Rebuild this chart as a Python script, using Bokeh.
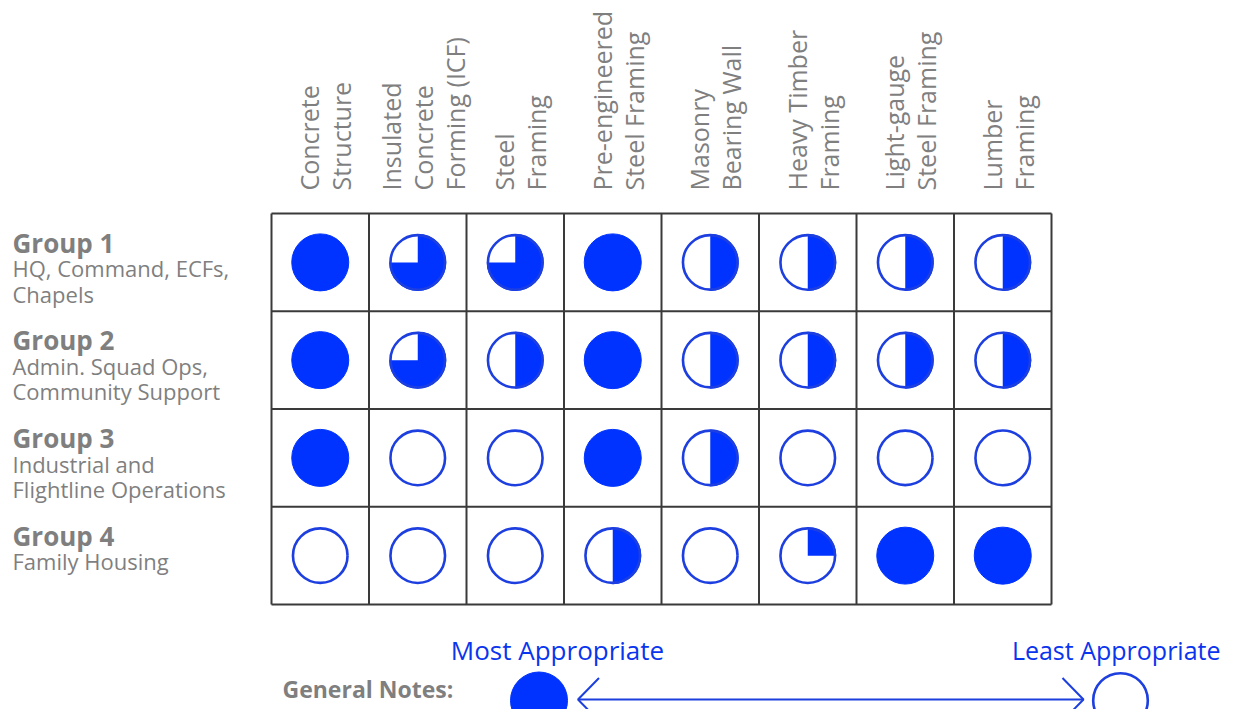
import math
from bokeh.plotting import figure
from bokeh.models import Range1d
from bokeh.core.properties import value
from bokeh.embed import file_html
from bokeh.resources import INLINE

# ---------------- data ----------------
column_labels = [
    ["Concrete", "Structure"],
    ["Insulated", "Concrete", "Forming (ICF)"],
    ["Steel", "Framing"],
    ["Pre-engineered", "Steel Framing"],
    ["Masonry", "Bearing Wall"],
    ["Heavy Timber", "Framing"],
    ["Light-gauge", "Steel Framing"],
    ["Lumber", "Framing"],
]
group_titles = ["Group 1", "Group 2", "Group 3", "Group 4"]
group_descriptions = [
    ["HQ, Command, ECFs,", "Chapels"],
    ["Admin. Squad Ops,", "Community Support"],
    ["Industrial and", "Flightline Operations"],
    ["Family Housing"],
]
group1_scores = [1.0, 0.75, 0.75, 1.0, 0.5, 0.5, 0.5, 0.5]
group2_scores = [1.0, 0.75, 0.5, 1.0, 0.5, 0.5, 0.5, 0.5]
group3_scores = [1.0, 0.0, 0.0, 1.0, 0.5, 0.0, 0.0, 0.0]
group4_scores = [0.0, 0.0, 0.0, 0.5, 0.0, 0.25, 1.0, 1.0]
scale_labels = ["Most Appropriate", "Least Appropriate"]
scale_scores = [1.0, 0.0]
notes_label = "General Notes:"

all_scores = [group1_scores, group2_scores, group3_scores, group4_scores]

# ---------------- style / layout ----------------
FONT = "Open Sans"
GRAY = "#7f7f7f"
BLUE = "#0033ff"
OUTLINE = "#1d3fe0"
TEXT_BLUE = "#0a35ee"
GRID_COLOR = "#3a3a3a"

W, H = 1222, 709
GX, GY = 271.0, 213.0
CW, CH = 97.5, 97.75
R = 28.5
BF = 11  # baseline correction
NCOL, NROW = len(column_labels), len(group_titles)

p = figure(width=W, height=H, x_range=Range1d(0, W), y_range=Range1d(H, 0),
           output_backend="svg", toolbar_location=None, min_border=0,
           x_axis_location=None, y_axis_location=None)
p.grid.visible = False
p.outline_line_color = None
p.background_fill_color = "white"
p.border_fill_color = "white"

# ---------------- grid ----------------
vx = [GX + c * CW for c in range(NCOL + 1)]
p.segment(x0=vx, y0=[GY] * len(vx), x1=vx, y1=[GY + NROW * CH] * len(vx),
          line_color=GRID_COLOR, line_width=2)
hy = [GY + r * CH for r in range(NROW + 1)]
p.segment(x0=[GX] * len(hy), y0=hy, x1=[GX + NCOL * CW] * len(hy), y1=hy,
          line_color=GRID_COLOR, line_width=2)

# ---------------- harvey balls ----------------
def draw_balls(xs, ys, scores):
    p.circle(x=xs, y=ys, radius=R, fill_color="white", line_color=None)
    part = [(x, y, s) for x, y, s in zip(xs, ys, scores) if 0 < s < 1]
    if part:
        p.wedge(x=[a[0] for a in part], y=[a[1] for a in part], radius=R,
                start_angle=[math.pi / 2] * len(part),
                end_angle=[math.pi / 2 - 2 * math.pi * a[2] for a in part],
                direction="clock", fill_color=BLUE, line_color=None)
    full = [(x, y) for x, y, s in zip(xs, ys, scores) if s >= 1]
    if full:
        p.circle(x=[a[0] for a in full], y=[a[1] for a in full], radius=R,
                 fill_color=BLUE, line_color=BLUE, line_width=1)
    rest = [(x, y) for x, y, s in zip(xs, ys, scores) if s < 1]
    if rest:
        p.circle(x=[a[0] for a in rest], y=[a[1] for a in rest], radius=R - 1.2,
                 fill_color=None, line_color=OUTLINE, line_width=2.6)

bx, by, bs = [], [], []
for r, row in enumerate(all_scores):
    for c, s in enumerate(row):
        bx.append(GX + (c + 0.5) * CW)
        by.append(GY + (r + 0.5) * CH)
        bs.append(s)
draw_balls(bx, by, bs)

# ---------------- column headers ----------------
LINE_SP = 32
tx, ty, tt = [], [], []
for c, lines in enumerate(column_labels):
    cx = GX + (c + 0.5) * CW
    n = len(lines)
    for i, ln in enumerate(lines):
        tx.append(cx + (i - (n - 1) / 2) * LINE_SP + 16 - BF)
        ty.append(GY - 23)
        tt.append(ln)
p.text(x=tx, y=ty, text=tt, angle=math.pi / 2, text_align="left",
       text_baseline="alphabetic", text_font=value(FONT), text_font_size="25px",
       text_color=GRAY)

# ---------------- row labels ----------------
gx_, gy_, gt_ = [], [], []
dx_, dy_, dt_ = [], [], []
for r, (title, desc) in enumerate(zip(group_titles, group_descriptions)):
    base = GY + r * CH + 40 - BF
    gx_.append(12); gy_.append(base); gt_.append(title)
    for i, ln in enumerate(desc):
        dx_.append(12); dy_.append(base + 25.5 * (i + 1)); dt_.append(ln)
p.text(x=gx_, y=gy_, text=gt_, text_align="left", text_baseline="alphabetic",
       text_font=value(FONT), text_font_size="26px", text_font_style="bold",
       text_color=GRAY)
p.text(x=dx_, y=dy_, text=dt_, text_align="left", text_baseline="alphabetic",
       text_font=value(FONT), text_font_size="22px", text_color=GRAY)

# ---------------- scale legend ----------------
LX = [538.5, 1120.0]
LY = 700.0
draw_balls(LX, [LY, LY], scale_scores)
p.text(x=[557], y=[660 - BF], text=[scale_labels[0]], text_align="center",
       text_baseline="alphabetic", text_font=value(FONT), text_font_size="26px",
       text_color=TEXT_BLUE)
p.text(x=[1220], y=[660 - BF], text=[scale_labels[1]], text_align="right",
       text_baseline="alphabetic", text_font=value(FONT), text_font_size="25px",
       text_color=TEXT_BLUE)

tip_l = LX[0] + 39
tip_r = LX[1] - 37
AX, AY = 21, 21.5
p.segment(x0=[tip_l], y0=[LY - 1], x1=[tip_r], y1=[LY - 1], line_color=OUTLINE, line_width=2)
p.multi_line(xs=[[tip_l + AX, tip_l, tip_l + AX], [tip_r - AX, tip_r, tip_r - AX]],
             ys=[[LY - 1 - AY, LY - 1, LY - 1 + AY], [LY - 1 - AY, LY - 1, LY - 1 + AY]],
             line_color=OUTLINE, line_width=2)

p.text(x=[282], y=[699 - BF], text=[notes_label], text_align="left",
       text_baseline="alphabetic", text_font=value(FONT), text_font_size="23px",
       text_font_style="bold", text_color=GRAY)

open("out.html", "w").write(file_html(p, INLINE))
